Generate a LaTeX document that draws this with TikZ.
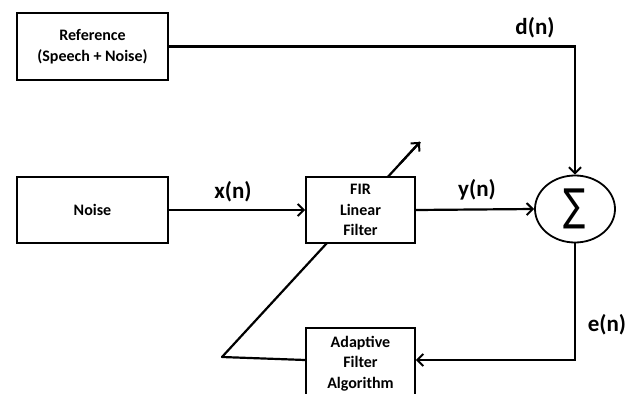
\documentclass[tikz,border=0pt]{standalone}
\usepackage{fontspec}
\setmainfont{Carlito}
\newfontfamily\symfont{DejaVu Sans}
\usetikzlibrary{arrows.meta,shapes.geometric,backgrounds,calc}
\begin{document}
\begin{tikzpicture}[x=1pt,y=-1pt,
  blk/.style={draw=black,fill=white,line width=1.8pt,align=center,font=\bfseries\fontsize{16}{20.5}\selectfont,inner sep=0pt},
  conn/.style={line width=2.2pt,-{Straight Barb[length=6pt,width=12pt,line width=2pt]}},
  plain/.style={line width=2.2pt},
  lbl/.style={font=\bfseries\fontsize{23}{25}\selectfont,inner sep=0pt}]
\useasboundingbox (0,0) rectangle (633,394);
\node[blk,minimum width=151pt,minimum height=67pt] (ref) at (92.5,46.5) {Reference\\(Speech + Noise)};
\node[blk,minimum width=151pt,minimum height=66pt] (noise) at (92.5,210) {Noise};
\node[blk,minimum width=109pt,minimum height=66pt] (fir) at (360.5,210) {FIR\\Linear\\Filter};
\node[blk,minimum width=109pt,minimum height=71pt] (adapt) at (360.5,363.5) {Adaptive\\Filter\\Algorithm};
\node[draw=black,fill=white,line width=1.8pt,ellipse,minimum width=80pt,minimum height=67pt,inner sep=0pt] (sum) at (575,209) {\scalebox{0.75}[1]{\symfont\fontsize{44}{44}\selectfont ∑}};
\draw[conn] (ref.east) -| (sum.north);
\draw[conn] (noise.east) -- (fir.west);
\draw[conn] (fir.east) -- (sum.west);
\coordinate (ecorner) at (575,360);
\draw[conn] (sum.south) -- (ecorner) -- (ecorner -| adapt.east);
\coordinate (v) at (222,357);
\coordinate (tip) at (420,142);
\begin{scope}[on background layer]
\draw[plain,line join=round] (ecorner -| adapt.west) -- (v) -- (tip);
\draw[conn] ($(v)!0.9!(tip)$) -- (tip);
\end{scope}
\node[lbl] (dn) at (535,28) {d(n)};
\node[lbl] (xn) at (233,192) {x(n)};
\node[lbl] (yn) at (477,190) {y(n)};
\node[lbl] (en) at (607,325) {e(n)};
\end{tikzpicture}
\end{document}
